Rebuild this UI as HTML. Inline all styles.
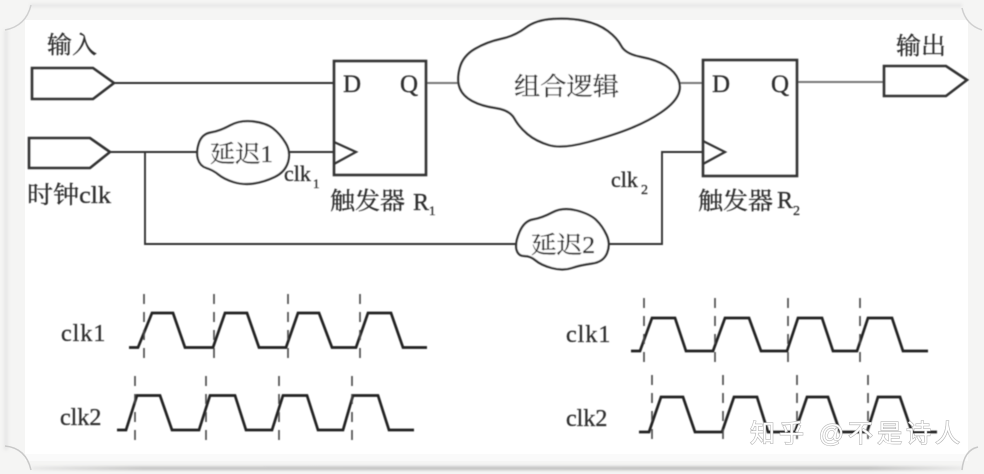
<!DOCTYPE html>
<html><head><meta charset="utf-8"><style>
html,body{margin:0;padding:0;background:#f5f5f4;width:984px;height:474px;overflow:hidden}
svg{display:block}
text{font-family:"Liberation Serif","Noto Serif CJK SC",serif;fill:#2e2e2e;stroke:#2e2e2e;stroke-width:.3px}
</style></head><body>
<svg width="984" height="474" viewBox="0 0 984 474" xmlns="http://www.w3.org/2000/svg">
<defs>
<filter id="b" x="-5%" y="-5%" width="110%" height="110%"><feGaussianBlur stdDeviation="0.55"/></filter>
<filter id="s" x="-5%" y="-5%" width="110%" height="110%"><feGaussianBlur stdDeviation="1.6"/></filter>
<linearGradient id="g" x1="0" x2="1" y1="0" y2="0"><stop offset="0" stop-color="#e4e4e4"/><stop offset=".12" stop-color="#a8a8a8"/><stop offset=".9" stop-color="#a0a0a0"/><stop offset="1" stop-color="#e4e4e4"/></linearGradient>
</defs>
<rect width="984" height="474" fill="#f5f5f4"/>
<g filter="url(#s)">
<rect x="4" y="30" width="4" height="420" fill="#e6e6e6"/>
<rect x="30" y="4" width="932" height="3" fill="#e4e4e4"/>
<rect x="32" y="467" width="930" height="2.5" fill="url(#g)"/>
</g>
<rect x="25" y="20" width="943" height="434" fill="#fff"/>
<rect x="25" y="454" width="943" height="7" fill="#fafafa"/>
<path d="M5,30Q26,26 31,5" fill="none" stroke="#cfcfcf" stroke-width="1.5"/>
<path d="M962,8Q966,25 982,30" fill="none" stroke="#cfcfcf" stroke-width="1.5"/>
<path d="M962,470Q964,450 978,447" fill="none" stroke="#c8c8c8" stroke-width="1.5"/>
<path d="M5,446Q26,448 31,470" fill="none" stroke="#c8c8c8" stroke-width="1.5"/>

<g filter="url(#b)">
<g fill="none" stroke="#333" stroke-width="2.2">
<path d="M114,83H334M110,152H198M289,152H334M145,152V244H517M609,244H662V152H703" stroke-width="1.9"/>
<path d="M426,83H458M680,83H703M797,82H884" stroke="#777" stroke-width="1.9"/>
<path d="M32,68H93L114,83L93,99H32Z" stroke-width="2.6"/>
<path d="M29,138H90L110,152L90,168H29Z" stroke-width="2.6"/>
<path d="M884,66H946L967,80L946,96H884Z" stroke-width="2.6"/>
<rect x="334" y="61" width="92" height="114" stroke-width="2.6"/>
<rect x="703" y="60" width="94" height="116" stroke-width="2.6"/>
<path d="M334,142L356,152L334,164"/>
<path d="M703,141L725,152L703,164"/>
<path transform="translate(-18 0) scale(1.041 1)" d="M459,68Q462,56 473.5,49Q485,42 498.5,39Q512,36 522,28Q532,20 548.5,19Q565,18 578.5,21Q592,24 601,31Q610,38 614,46Q618,54 633,57Q648,60 657,66Q666,72 669,80Q672,88 668,96Q664,104 652,112.5Q640,121 623.5,128Q607,135 582,142Q557,149 544.5,145Q532,141 524,134Q516,127 511.5,118.5Q507,110 493.5,108Q480,106 471,101Q462,96 459,88Q456,80 459,68Z" fill="#fff"/>
<path d="M199,143Q202,134 211,132.5Q220,131 230,125.5Q240,120 253,121.5Q266,123 273,128.5Q280,134 285.5,143Q291,152 288,162Q285,172 274.5,177Q264,182 253.5,183.5Q243,185 233.5,182Q224,179 218.5,174.5Q213,170 206.5,168Q200,166 198,159Q196,152 199,143Z" fill="#fff"/>
<path transform="translate(-16.5 0) scale(1.04 1)" d="M515.5,232Q520,221 528.5,219.5Q537,218 547,212.5Q557,207 570,210.5Q583,214 589,220Q595,226 599,235Q603,244 599.5,253Q596,262 585,263.5Q574,265 565.5,268Q557,271 546.5,268Q536,265 531,260.5Q526,256 520,256Q514,256 512.5,249.5Q511,243 515.5,232Z" fill="#fff"/>
</g>

<g fill="none" stroke="#222" stroke-width="2.7">
<path d="M129,347.5H138L152,313H173L185,347.5H213L225,313H247L259,347.5H286L298,313H319L332,347.5H356L368,313H391L403,347.5H427"/>
<path d="M117,430H126L137,395.5H160L172,430H199L210,395.5H235L246,430H272L283,395.5H307L318,430H343L353,395.5H378L389,430H414"/>
<path d="M631,351H640L652,318H675L686,351H713L725,318H749L761,351H787L798,318H822L833,351H857L868,318H892L903,351H928"/>
<path d="M639,432H649L661,397H683L695,432H722L734,397H757L768,432H795L807,397H828L840,432H867L878,397H900L912,432H937"/>
</g>
<g fill="none" stroke="#444" stroke-width="1.6" stroke-dasharray="10 8">
<path d="M144,294V366M214,294V366M288,294V366M360,294V366"/>
<path d="M135,376V447M206,376V447M279,376V447M352,376V447"/>
<path d="M644,298V370M715,298V370M788,298V370M860,298V370"/>
<path d="M652,375V446M723,375V446M797,375V446M868,375V446"/>
</g>

<text x="47" y="53" font-size="24" textLength="50" lengthAdjust="spacingAndGlyphs">输入</text>
<text x="27" y="203" font-size="24" textLength="84" lengthAdjust="spacingAndGlyphs">时钟clk</text>
<text x="896" y="54" font-size="24" textLength="50" lengthAdjust="spacingAndGlyphs">输出</text>
<text x="343" y="92" font-size="25">D</text>
<text x="400" y="92" font-size="25">Q</text>
<text x="712" y="92" font-size="25">D</text>
<text x="771" y="92" font-size="25">Q</text>
<text x="210" y="162" font-size="24" textLength="63" lengthAdjust="spacingAndGlyphs">延迟1</text>
<text x="284" y="181" font-size="22">clk</text><text x="313" y="188" font-size="13">1</text>
<text x="330" y="209" font-size="24" textLength="75" lengthAdjust="spacingAndGlyphs">触发器</text>
<text x="413" y="210" font-size="24">R</text><text x="429" y="215" font-size="13">1</text>
<text x="514" y="95" font-size="25" textLength="105" lengthAdjust="spacingAndGlyphs">组合逻辑</text>
<text x="611" y="187" font-size="22">clk</text><text x="641" y="194" font-size="14">2</text>
<text x="698" y="209" font-size="24" textLength="75" lengthAdjust="spacingAndGlyphs">触发器</text>
<text x="777" y="208" font-size="24">R</text><text x="793" y="215" font-size="14">2</text>
<text x="531" y="253" font-size="24" textLength="64" lengthAdjust="spacingAndGlyphs">延迟2</text>

<text x="61" y="341" font-size="24" letter-spacing="1">clk1</text>
<text x="60" y="425" font-size="24">clk2</text>
<text x="566" y="342" font-size="24" letter-spacing="1">clk1</text>
<text x="566" y="426" font-size="24">clk2</text>
</g>
<text x="750" y="442" font-size="25" textLength="210" lengthAdjust="spacing" style="font-family:'Liberation Sans','Noto Sans CJK SC',sans-serif;fill:#fff;stroke:#b5b5b5;stroke-width:1.2px;paint-order:stroke">知乎 @不是诗人</text>
</svg>
</body></html>
